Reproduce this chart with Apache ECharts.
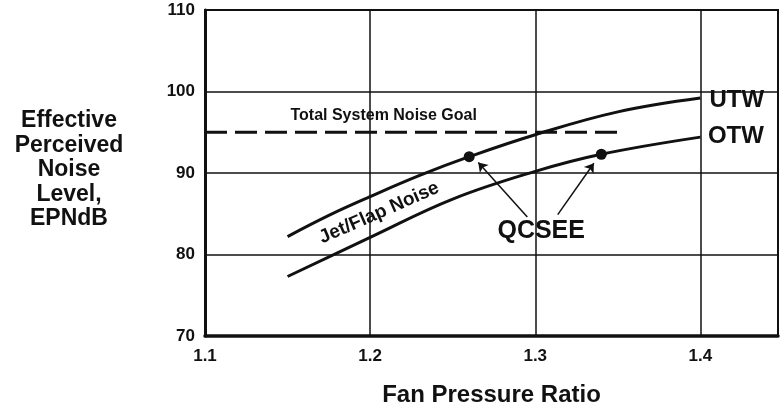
<!DOCTYPE html>
<html>
<head>
<meta charset="utf-8">
<script src="https://cdn.jsdelivr.net/npm/echarts@6/dist/echarts.min.js"></script>
<style>
  html, body { margin: 0; padding: 0; background: #fff; }
  #chart { width: 783px; height: 412px; }
</style>
</head>
<body>
<div id="chart"></div>
<script>
// fan pressure ratio vs EPNdB
const utwX = [1.15, 1.175, 1.2, 1.23, 1.26, 1.3, 1.35, 1.4]
const utwY = [82.2, 84.8, 87.1, 89.7, 92.0, 94.7, 97.5, 99.2]
const otwX = [1.15, 1.2, 1.25, 1.3, 1.34, 1.4]
const otwY = [77.3, 82.1, 86.8, 90.2, 92.3, 94.4]
const goalX = [1.1, 1.352]
const goalY = [95, 95]
const qcseeX = [1.26, 1.34]
const qcseeY = [92.0, 92.3]
// arrow from the QCSEE label to each dot: [x0, y0, x1, y1]
const arrows = [
  [1.2952, 84.6, 1.2655, 91.3],
  [1.3136, 84.9, 1.3355, 91.2]
]
const noteText = ['Total System Noise Goal', 'Jet/Flap Noise', 'QCSEE', 'UTW', 'OTW']
const noteX = [1.2082, 1.2055, 1.3036, 1.422, 1.4215]
const noteY = [97.1, 85.1, 82.9, 98.9, 94.5]
const yTicks = [70, 80, 90, 100, 110]

const ink = '#111'
const font = '"Liberation Sans", Arial, Helvetica, sans-serif'
const noteStyle = [
  { fontSize: 16, rotate: 0 },
  { fontSize: 19, rotate: 23.7 },
  { fontSize: 25, rotate: 0 },
  { fontSize: 24, rotate: 0 },
  { fontSize: 24, rotate: 0 }
]

const zip = (xs, ys) => xs.map((x, i) => [x, ys[i]])

const chart = echarts.init(document.getElementById('chart'), null, { renderer: 'canvas' })

chart.setOption({
  animation: false,
  backgroundColor: '#fff',
  textStyle: { fontFamily: font, color: ink },
  grid: {
    left: 205, right: 5, top: 10, bottom: 75,
    show: true, borderColor: ink, borderWidth: 2
  },
  xAxis: {
    type: 'value',
    min: 1.1, max: 1.447, interval: 0.1,
    name: 'Fan Pressure Ratio',
    nameLocation: 'middle',
    nameGap: 47,
    nameTextStyle: { fontSize: 24, fontWeight: 'bold', color: ink, fontFamily: font },
    axisLine: { show: true, lineStyle: { color: ink, width: 3.5 } },
    axisTick: { show: false },
    axisLabel: {
      fontSize: 17, fontWeight: 'bold', color: ink, margin: 12,
      showMaxLabel: false,
      formatter: v => v.toFixed(1)
    },
    splitLine: { show: true, lineStyle: { color: ink, width: 1.5 } }
  },
  yAxis: {
    type: 'value',
    min: yTicks[0], max: yTicks[yTicks.length - 1], interval: 10,
    axisLine: { show: true, lineStyle: { color: ink, width: 3 } },
    axisTick: { show: false },
    axisLabel: { fontSize: 17, fontWeight: 'bold', color: ink, margin: 10 },
    splitLine: { show: true, lineStyle: { color: ink, width: 1.5 } }
  },
  graphic: [{
    type: 'text',
    x: 69, y: 170,
    style: {
      text: 'Effective\nPerceived\nNoise\nLevel,\nEPNdB',
      font: 'bold 23px ' + font,
      fill: ink,
      lineHeight: 24.5,
      align: 'center',
      verticalAlign: 'middle'
    }
  }],
  series: [
    {
      name: 'UTW', type: 'line', smooth: 0.4, showSymbol: false,
      data: zip(utwX, utwY),
      lineStyle: { color: ink, width: 3 }
    },
    {
      name: 'OTW', type: 'line', smooth: 0.4, showSymbol: false,
      data: zip(otwX, otwY),
      lineStyle: { color: ink, width: 3 }
    },
    {
      name: 'Goal', type: 'line', showSymbol: false,
      data: zip(goalX, goalY),
      lineStyle: { color: ink, width: 3, type: [22, 8] }
    },
    {
      name: 'QCSEE', type: 'scatter', symbolSize: 11,
      data: zip(qcseeX, qcseeY),
      itemStyle: { color: ink, opacity: 1 },
      markLine: {
        silent: true,
        symbol: ['none', 'arrow'],
        symbolSize: 9,
        label: { show: false },
        lineStyle: { color: ink, width: 1.5, type: 'solid', opacity: 1 },
        data: arrows.map(a => [{ coord: [a[0], a[1]] }, { coord: [a[2], a[3]] }])
      }
    },
    {
      name: 'notes', type: 'scatter', symbolSize: 0, silent: true, clip: false,
      itemStyle: { color: ink, opacity: 1 },
      data: noteText.map((t, i) => ({
        name: t,
        value: [noteX[i], noteY[i]],
        label: {
          show: true, position: 'inside', formatter: '{b}',
          fontSize: noteStyle[i].fontSize, rotate: noteStyle[i].rotate,
          fontWeight: 'bold', color: ink, fontFamily: font,
          textBorderWidth: 0
        }
      }))
    }
  ]
})
</script>
</body>
</html>
